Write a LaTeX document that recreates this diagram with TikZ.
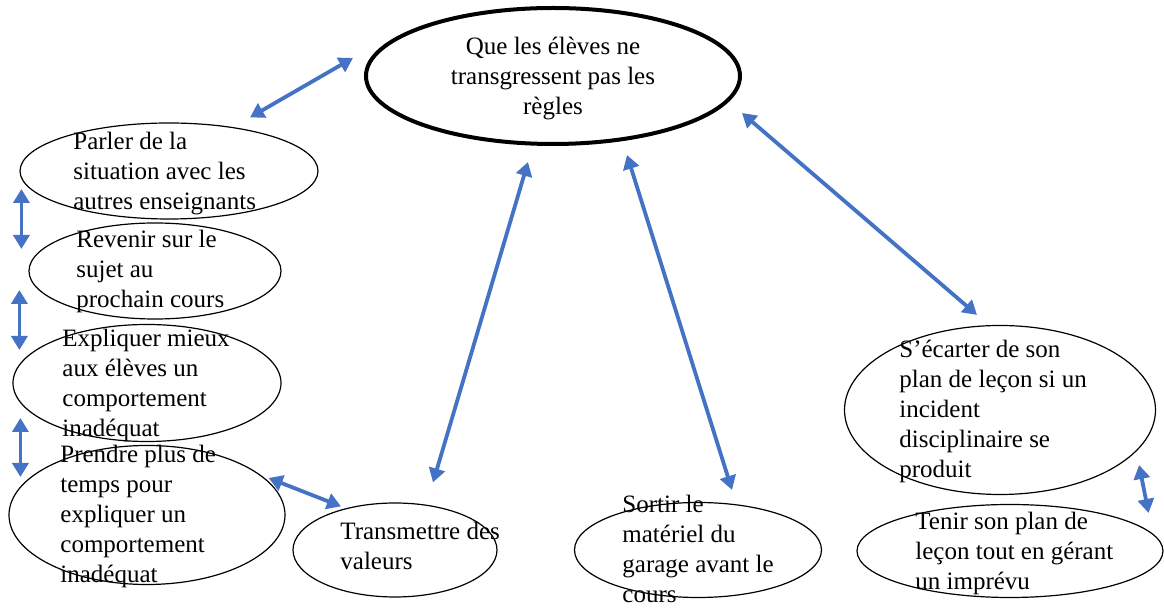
\documentclass[tikz,border=0pt]{standalone}
\usepackage{fontspec}
\setmainfont{Liberation Serif}
\usetikzlibrary{arrows.meta,shapes.geometric}

\definecolor{linkblue}{HTML}{4472C4}
\newcommand{\leftlines}[1]{\begin{tabular}[t]{@{}l@{}}#1\end{tabular}}
\newcommand{\midlines}[1]{\begin{tabular}[t]{@{}c@{}}#1\end{tabular}}

\begin{document}
\begin{tikzpicture}[
  x=0.5pt, y=-0.5pt,
  font=\fontsize{12.5}{15}\selectfont,
  bubble/.style={draw, ellipse, line width=0.6pt, inner sep=0pt},
  goal/.style={bubble, line width=2pt},
  txt/.style={inner sep=0pt, anchor=base west},
  link/.style={{Triangle[length=7pt,width=8pt]}-{Triangle[length=7pt,width=8pt]}, line width=1.9pt, draw=linkblue},
]
\useasboundingbox (0,0) rectangle (1164,608);

% The central goal.
\node[goal, minimum width=187pt, minimum height=68pt] (main) at (553,76) {};
\node[inner sep=0pt, anchor=base] (main-txt) at (553,55) {\midlines{Que les élèves ne\\transgressent pas les\\règles}};

% Left column, top to bottom.
\node[bubble, minimum width=149pt, minimum height=48pt] (parler) at (169,171) {};
\node[txt] (parler-txt) at (73,150) {\leftlines{Parler de la\\situation avec les\\autres enseignants}};

\node[bubble, minimum width=126pt, minimum height=48pt] (revenir) at (155,271) {};
\node[txt] (revenir-txt) at (76,248) {\leftlines{Revenir sur le\\sujet au\\prochain cours}};

\node[bubble, minimum width=134pt, minimum height=58.5pt] (expliquer) at (147,383) {};
\node[txt] (expliquer-txt) at (62,347) {\leftlines{Expliquer mieux\\aux élèves un\\comportement\\inadéquat}};

\node[bubble, minimum width=138pt, minimum height=69.5pt] (prendre) at (147,515) {};
\node[txt] (prendre-txt) at (60,463) {\leftlines{Prendre plus de\\temps pour\\expliquer un\\comportement\\inadéquat}};

% Bottom row.
\node[bubble, minimum width=102pt, minimum height=47pt] (transmettre) at (395,550) {};
\node[txt] (transmettre-txt) at (340,540) {\leftlines{Transmettre des\\valeurs}};

\node[bubble, minimum width=123.5pt, minimum height=47.5pt] (sortir) at (698,550) {};
\node[txt] (sortir-txt) at (622,513) {\leftlines{Sortir le\\matériel du\\garage avant le\\cours}};

% Right side.
\node[bubble, minimum width=155.5pt, minimum height=84.5pt] (ecarter) at (1000,410) {};
\node[txt] (ecarter-txt) at (899,358) {\leftlines{S’écarter de son\\plan de leçon si un\\incident\\disciplinaire se\\produit}};

\node[bubble, minimum width=153pt, minimum height=46.5pt] (tenir) at (1010,551) {};
\node[txt] (tenir-txt) at (915,530) {\leftlines{Tenir son plan de\\leçon tout en gérant\\un imprévu}};

% Double-headed links.
\draw[link] ([shift={(81,-5)}]parler.north) -- ([shift={(-11,-18)}]main.west);
\draw[link] ([shift={(2,18)}]parler.west) -- ([shift={(-7,-22)}]revenir.west);
\draw[link] ([shift={(-9,19)}]revenir.west) -- ([shift={(7,-33)}]expliquer.west);
\draw[link] ([shift={(8,35)}]expliquer.west) -- ([shift={(12,-38)}]prendre.west);
\draw[link] ([shift={(-17,-37)}]prendre.east) -- ([shift={(-54,4)}]transmettre.north);
\draw[link] ([shift={(38,-20)}]transmettre.north) -- ([shift={(-25,16)}]main.south);
\draw[link] ([shift={(74,9)}]main.south) -- ([shift={(34,-12)}]sortir.north);
\draw[link] ([shift={(0,37)}]main.east) -- ([shift={(-23,-10)}]ecarter.north);
\draw[link] ([shift={(-17,55)}]ecarter.east) -- ([shift={(-15,-38)}]tenir.east);

\end{tikzpicture}
\end{document}
